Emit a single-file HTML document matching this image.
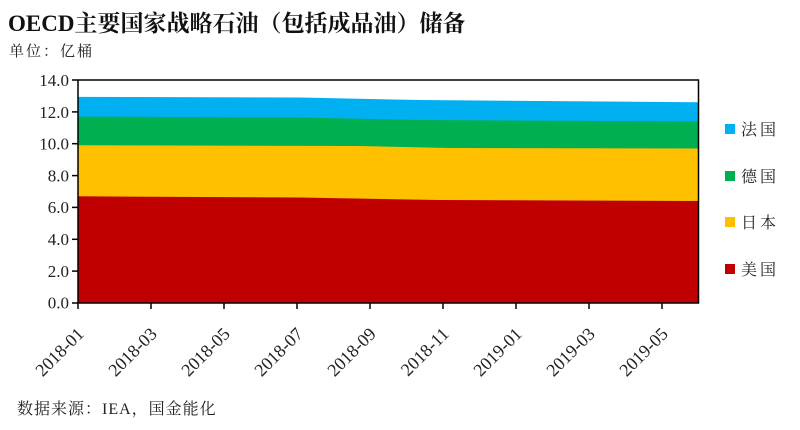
<!DOCTYPE html>
<html><head><meta charset="utf-8"><style>
body{margin:0;background:#fff;width:800px;height:430px;overflow:hidden}
svg{display:block}
</style></head><body>
<svg width="800" height="430" viewBox="0 0 800 430" xmlns="http://www.w3.org/2000/svg" font-family="'Liberation Serif','Noto Serif CJK SC',serif">
<text x="8" y="31" font-size="23" font-weight="bold" fill="#111">OECD主要国家战略石油（包括成品油）储备</text>
<text x="9" y="56" font-size="15" fill="#222" letter-spacing="2">单位：亿桶</text>
<polygon points="78,303 78,96.9 300,97.5 420,100 698.5,102.3 698.5,303" fill="#00b0f0"/>
<polygon points="78,303 78,116.6 300,117.5 420,120 698.5,121.4 698.5,303" fill="#00b050"/>
<polygon points="78,303 78,145.3 360,146 450,148 698.5,148.5 698.5,303" fill="#ffc000"/>
<polygon points="78,303 78,196.3 300,197.5 440,200 698.5,201 698.5,303" fill="#c00000"/>
<rect x="78" y="80" width="620.5" height="223" fill="none" stroke="#000" stroke-width="1.5"/>
<g font-size="17" fill="#222" text-anchor="end">
<text x="69" y="86">14.0</text><text x="69" y="118">12.0</text><text x="69" y="149.5">10.0</text>
<text x="69" y="181.5">8.0</text><text x="69" y="213">6.0</text><text x="69" y="245">4.0</text>
<text x="69" y="277">2.0</text><text x="69" y="308.5">0.0</text>
</g>
<g stroke="#000" stroke-width="1.5">
<line x1="72" y1="80" x2="78" y2="80"/><line x1="72" y1="111.9" x2="78" y2="111.9"/><line x1="72" y1="143.7" x2="78" y2="143.7"/>
<line x1="72" y1="175.6" x2="78" y2="175.6"/><line x1="72" y1="207.4" x2="78" y2="207.4"/><line x1="72" y1="239.3" x2="78" y2="239.3"/>
<line x1="72" y1="271.1" x2="78" y2="271.1"/><line x1="72" y1="303" x2="78" y2="303"/>
<line x1="78" y1="303" x2="78" y2="309"/><line x1="151" y1="303" x2="151" y2="309"/><line x1="224" y1="303" x2="224" y2="309"/>
<line x1="297" y1="303" x2="297" y2="309"/><line x1="370" y1="303" x2="370" y2="309"/><line x1="443" y1="303" x2="443" y2="309"/>
<line x1="516" y1="303" x2="516" y2="309"/><line x1="589" y1="303" x2="589" y2="309"/><line x1="662" y1="303" x2="662" y2="309"/>
</g>
<g font-size="18" fill="#222" text-anchor="end">
<text transform="translate(85,335) rotate(-45)">2018-01</text>
<text transform="translate(158,335) rotate(-45)">2018-03</text>
<text transform="translate(231,335) rotate(-45)">2018-05</text>
<text transform="translate(304,335) rotate(-45)">2018-07</text>
<text transform="translate(377,335) rotate(-45)">2018-09</text>
<text transform="translate(450,335) rotate(-45)">2018-11</text>
<text transform="translate(523,335) rotate(-45)">2019-01</text>
<text transform="translate(596,335) rotate(-45)">2019-03</text>
<text transform="translate(669,335) rotate(-45)">2019-05</text>
</g>
<g font-size="16" fill="#222" letter-spacing="3">
<rect x="725" y="124" width="10" height="10" fill="#00b0f0"/><text x="741" y="135">法国</text>
<rect x="725" y="171" width="10" height="10" fill="#00b050"/><text x="741" y="182">德国</text>
<rect x="725" y="217" width="10" height="10" fill="#ffc000"/><text x="741" y="228">日本</text>
<rect x="725" y="264" width="10" height="10" fill="#c00000"/><text x="741" y="275">美国</text>
</g>
<text x="17" y="414" font-size="16" fill="#222" letter-spacing="1">数据来源：IEA，国金能化</text>
</svg>
</body></html>
